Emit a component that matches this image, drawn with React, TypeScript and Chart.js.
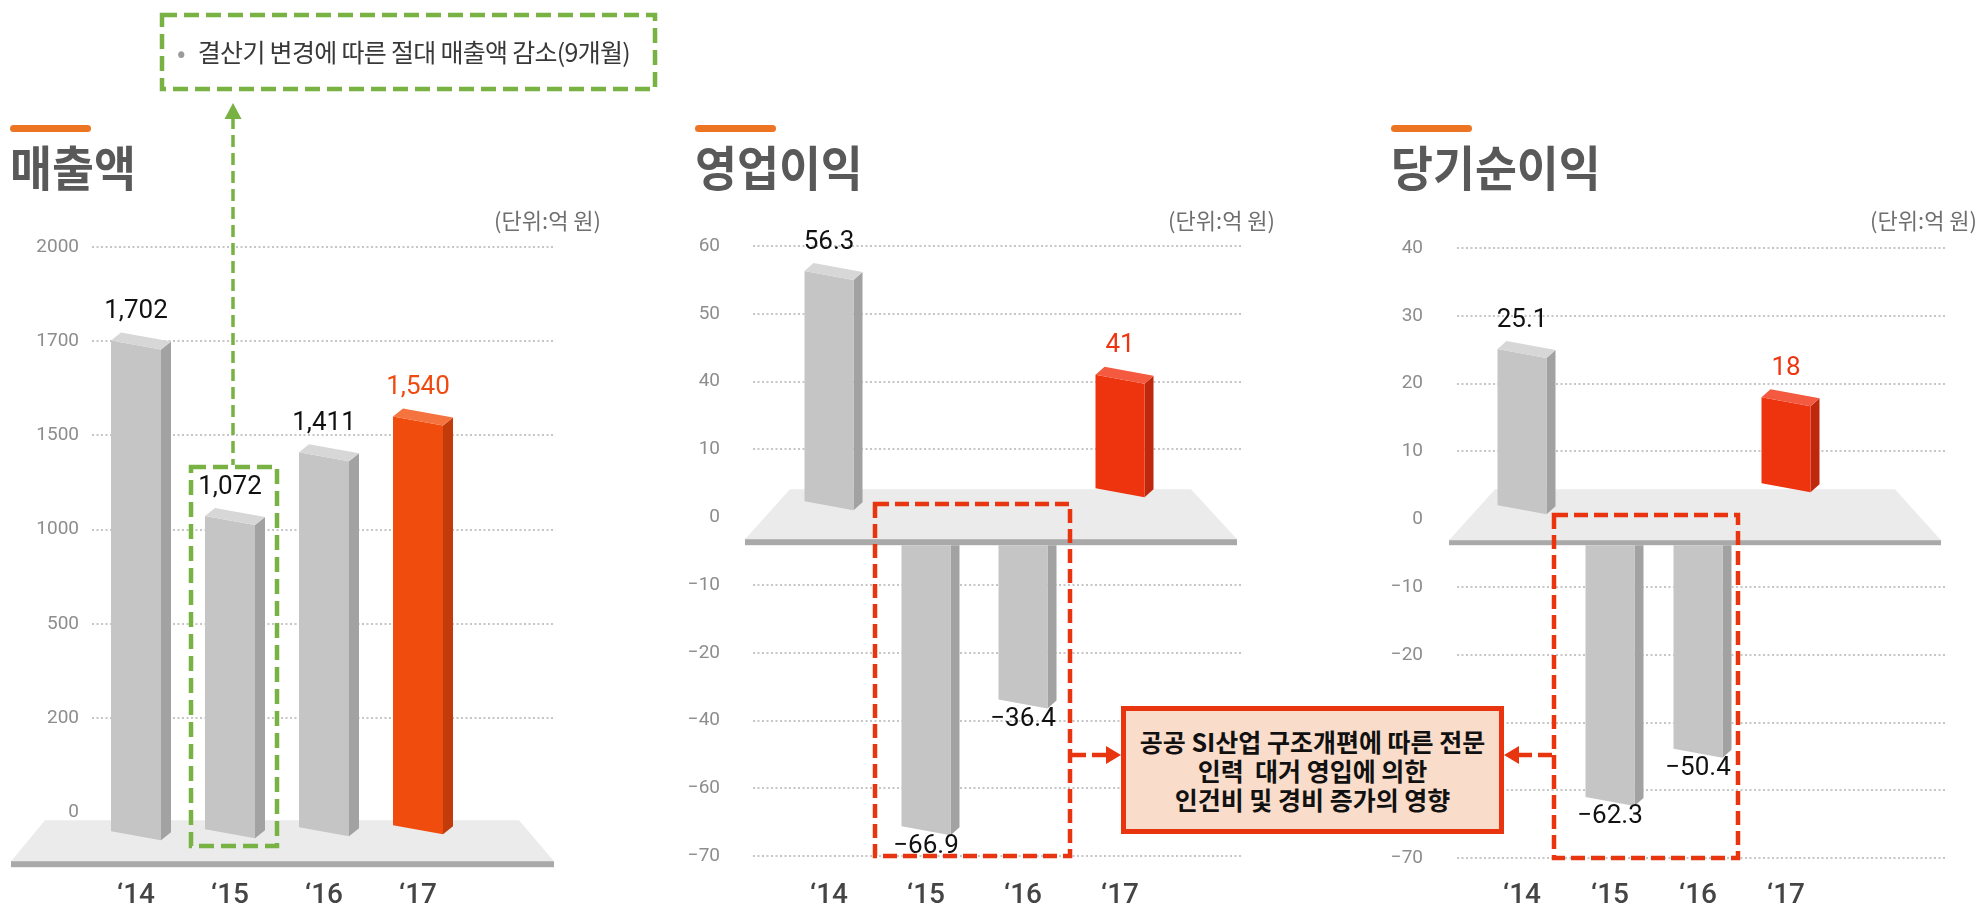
import React, { useEffect, useRef } from "react";
import { Chart, registerables } from "chart.js";

Chart.register(...registerables);

// ---------------- data ----------------
const years = ["‘14", "‘15", "‘16", "‘17"];

const salesValues = [1702, 1072, 1411, 1540];
const salesTicks = [0, 200, 500, 1000, 1500, 1700, 2000];

const opProfitValues = [56.3, -66.9, -36.4, 41];
const opProfitTicks = [-70, -60, -40, -20, -10, 0, 10, 40, 50, 60];

const netIncomeValues = [25.1, -62.3, -50.4, 18];
const netIncomeTicks = [-70, -60, -40, -20, -10, 0, 10, 20, 30, 40];

const titles = ["매출액", "영업이익", "당기순이익"];
const unitLabel = "(단위:억 원)";
const noteText = "결산기 변경에 따른 절대 매출액 감소(9개월)";
const calloutLines = [
  "공공 SI산업 구조개편에 따른 전문",
  "인력  대거 영입에 의한",
  "인건비 및 경비 증가의 영향",
];
const highlightIndex = 3;

// ---------------- helpers ----------------
function toTickIndex(v: number, ticks: number[]): number {
  for (let i = 0; i < ticks.length - 1; i++) {
    const a = ticks[i];
    const b = ticks[i + 1];
    if (v >= a && v <= b) return i + (v - a) / (b - a);
  }
  return v < ticks[0] ? 0 : ticks.length - 1;
}

const fmt = (v: number) => v.toLocaleString("en-US").replace("-", "\u2212");
const fmtTick = (v: number) => String(v).replace("-", "\u2212");

const GRAY = { front: "#c5c5c5", side: "#a2a2a2", top: "#d7d7d7" };

interface PanelStyle {
  canvasLeft: number;
  canvasWidth: number;
  chartLeft: number;
  chartRight: number;
  chartTop: number;
  chartBottom: number;
  pxPerTick: number;
  firstCenter: number;
  spacing: number;
  tickPad: number;
  barW: number;
  shear: number;
  depthX: number;
  depthY: number;
  posBottom: number;
  posBottomStep: number;
  negTop: number;
  plat: { backL: number; backR: number; frontL: number; frontR: number; back: number; front: number; strip: number };
  hi: { front: string; side: string; top: string; label: string };
}

const H = 910;
const X_LABEL_MID = 896;

const style1: PanelStyle = {
  canvasLeft: 0, canvasWidth: 620, chartLeft: 92, chartRight: 553, chartTop: 247, chartBottom: 859.3,
  pxPerTick: 94.2, firstCenter: 136, spacing: 94, tickPad: 13,
  barW: 50, shear: 9, depthX: 10, depthY: 8, posBottom: 19, posBottomStep: -2, negTop: 55,
  plat: { backL: -47, backR: -34, frontL: -81, frontR: 1, back: 8, front: 49, strip: 55 },
  hi: { front: "#ef4c0e", side: "#c23b0a", top: "#f4733f", label: "#ef4a0f" },
};
const style2: PanelStyle = {
  canvasLeft: 660, canvasWidth: 620, chartLeft: 753, chartRight: 1242, chartTop: 246, chartBottom: 864,
  pxPerTick: 67.8, firstCenter: 829, spacing: 97, tickPad: 33,
  barW: 49, shear: 9, depthX: 9, depthY: 8, posBottom: -16, posBottomStep: -4.3, negTop: 28,
  plat: { backL: 37, backR: -51, frontL: -8, frontR: -5, back: -28, front: 22, strip: 28 },
  hi: { front: "#ee340f", side: "#bf280c", top: "#f35a3f", label: "#ee3512" },
};
const style3: PanelStyle = {
  canvasLeft: 1370, canvasWidth: 610, chartLeft: 1457, chartRight: 1945, chartTop: 248, chartBottom: 864,
  pxPerTick: 67.8, firstCenter: 1522, spacing: 88, tickPad: 34,
  barW: 49, shear: 9, depthX: 9, depthY: 8, posBottom: -14, posBottomStep: -7.3, negTop: 26,
  plat: { backL: 38, backR: -50, frontL: -8, frontR: -4, back: -30, front: 21, strip: 26 },
  hi: { front: "#ee340f", side: "#bf280c", top: "#f35a3f", label: "#ee3512" },
};

function poly(ctx: CanvasRenderingContext2D, color: string, pts: number[][]) {
  ctx.fillStyle = color;
  ctx.beginPath();
  ctx.moveTo(pts[0][0], pts[0][1]);
  for (let i = 1; i < pts.length; i++) ctx.lineTo(pts[i][0], pts[i][1]);
  ctx.closePath();
  ctx.fill();
}

function make3D(values: number[], ticks: number[], s: PanelStyle) {
  const zeroIdx = ticks.indexOf(0);
  return {
    id: "bar3d",
    beforeDatasetsDraw(chart: any) {
      const { ctx, chartArea: a } = chart;
      const zero = chart.scales.y.getPixelForValue(zeroIdx);
      const p = s.plat;
      ctx.save();
      poly(ctx, "#ebebeb", [
        [a.left + p.backL, zero + p.back],
        [a.right + p.backR, zero + p.back],
        [a.right + p.frontR, zero + p.front],
        [a.left + p.frontL, zero + p.front],
      ]);
      ctx.fillStyle = "#a9a9a9";
      ctx.fillRect(a.left + p.frontL, zero + p.front, a.right + p.frontR - (a.left + p.frontL), p.strip - p.front);
      ctx.restore();
    },
    afterDatasetsDraw(chart: any) {
      const ctx: CanvasRenderingContext2D = chart.ctx;
      const zero = chart.scales.y.getPixelForValue(zeroIdx);
      const meta = chart.getDatasetMeta(0);
      const sh = s.shear, dx = s.depthX, dy = s.depthY;
      ctx.save();
      meta.data.forEach((el: any, i: number) => {
        const v = values[i];
        const col = i === highlightIndex ? s.hi : GRAY;
        const L = el.x - s.barW / 2;
        const R = el.x + s.barW / 2;
        let labelY: number;
        if (v >= 0) {
          const T = el.y;
          const B = zero + s.posBottom + s.posBottomStep * i;
          poly(ctx, col.side, [[R, T + sh], [R + dx, T + sh - dy], [R + dx, B + sh - dy], [R, B + sh]]);
          poly(ctx, col.front, [[L, T], [R, T + sh], [R, B + sh], [L, B]]);
          poly(ctx, col.top, [[L, T], [R, T + sh], [R + dx, T + sh - dy], [L + dx, T - dy]]);
          labelY = T - 29;
        } else {
          const T = zero + s.negTop;
          const Br = el.y;
          const Bl = Br - sh;
          poly(ctx, col.side, [[R, T], [R + dx, T], [R + dx, Br - dy], [R, Br]]);
          poly(ctx, col.front, [[L, T], [R, T], [R, Br], [L, Bl]]);
          labelY = Br + 11;
        }
        ctx.font = "26px Roboto";
        ctx.textAlign = "center";
        ctx.textBaseline = "middle";
        ctx.fillStyle = i === highlightIndex ? s.hi.label : "#111111";
        ctx.fillText(fmt(v), el.x, labelY);
      });
      ctx.restore();
    },
  };
}

function buildChart(canvas: HTMLCanvasElement, values: number[], ticks: number[], s: PanelStyle) {
  const yMax = ticks.length - 1;
  const yMin = yMax - (s.chartBottom - s.chartTop) / s.pxPerTick;
  const xMin = -(s.firstCenter - s.chartLeft) / s.spacing;
  const xMax = xMin + (s.chartRight - s.chartLeft) / s.spacing;
  const zeroIdx = ticks.indexOf(0);
  const xFont = 28;
  return new Chart(canvas, {
    type: "bar",
    data: {
      datasets: [
        {
          data: values.map((v, i) => ({ x: i, y: toTickIndex(v, ticks) })),
          base: zeroIdx,
          barThickness: s.barW,
          backgroundColor: "rgba(0,0,0,0)",
          borderWidth: 0,
        } as any,
      ],
    },
    options: {
      responsive: false,
      animation: false,
      events: [],
      layout: {
        autoPadding: false,
        padding: { left: 0, top: s.chartTop, right: s.canvasLeft + s.canvasWidth - s.chartRight, bottom: 0 },
      },
      plugins: { legend: { display: false }, tooltip: { enabled: false } },
      scales: {
        x: {
          type: "linear",
          offset: false,
          min: xMin,
          max: xMax,
          grid: { display: false, offset: false, drawTicks: false },
          border: { display: false },
          afterBuildTicks: (ax: any) => {
            ax.ticks = years.map((_, i) => ({ value: i }));
          },
          afterFit: (ax: any) => {
            ax.height = H - s.chartBottom;
          },
          ticks: {
            autoSkip: false,
            maxRotation: 0,
            padding: X_LABEL_MID - s.chartBottom - xFont * 0.6,
            color: "#454545",
            font: { family: "Roboto", size: xFont, weight: "500" },
            callback: (v: any) => years[v] ?? "",
          },
        },
        y: {
          type: "linear",
          min: yMin,
          max: yMax,
          afterBuildTicks: (ax: any) => {
            ax.ticks = ticks.map((_, i) => ({ value: i }));
          },
          afterFit: (ax: any) => {
            ax.width = s.chartLeft - s.canvasLeft;
          },
          grid: {
            drawTicks: false,
            lineWidth: 2,
            color: (c: any) => (c.tick && ticks[c.tick.value] === 0 ? "rgba(0,0,0,0)" : "#c6c6c6"),
          },
          border: { display: false, dash: [2, 2.5] },
          ticks: {
            autoSkip: false,
            padding: s.tickPad,
            color: "#8d8d8d",
            font: { family: "Roboto", size: 19 },
            callback: (v: any) => (ticks[v] === undefined ? "" : fmtTick(ticks[v])),
          },
        },
      },
    } as any,
    plugins: [make3D(values, ticks, s)],
  });
}

function Panel({ values, ticks, s }: { values: number[]; ticks: number[]; s: PanelStyle }) {
  const ref = useRef<HTMLCanvasElement>(null);
  useEffect(() => {
    const chart = buildChart(ref.current as HTMLCanvasElement, values, ticks, s);
    return () => chart.destroy();
  }, []);
  return (
    <canvas
      ref={ref}
      width={s.canvasWidth}
      height={H}
      style={{ position: "absolute", left: s.canvasLeft, top: 0, width: s.canvasWidth, height: H }}
    />
  );
}

const KR = '"Noto Sans CJK KR", "Noto Sans", sans-serif';
const GREEN = "#77b243";
const RED = "#e8340f";

function Header({ left, title, unitRight }: { left: number; title: string; unitRight: number }) {
  return (
    <>
      <div style={{ position: "absolute", left, top: 125, width: 81, height: 7, borderRadius: 4, background: "#ec7423" }} />
      <div
        style={{
          position: "absolute", left, top: 141, fontFamily: KR, fontWeight: 700, fontSize: 48, lineHeight: "48px",
          color: "#595959", whiteSpace: "nowrap", transform: "scaleX(0.95)", transformOrigin: "left top",
        }}
      >
        {title}
      </div>
      <div
        style={{
          position: "absolute", left: unitRight - 200, width: 200, top: 208, textAlign: "right", fontFamily: KR,
          fontSize: 22, lineHeight: "22px", color: "#6e6e6e", whiteSpace: "nowrap",
        }}
      >
        {unitLabel}
      </div>
    </>
  );
}

export default function App() {
  useEffect(() => {
    document.body.style.margin = "0";
  }, []);
  return (
    <div style={{ position: "absolute", left: 0, top: 0, width: 1980, height: H, background: "#fff", overflow: "hidden" }}>
      <Panel values={salesValues} ticks={salesTicks} s={style1} />
      <Panel values={opProfitValues} ticks={opProfitTicks} s={style2} />
      <Panel values={netIncomeValues} ticks={netIncomeTicks} s={style3} />

      <Header left={10} title={titles[0]} unitRight={601} />
      <Header left={695} title={titles[1]} unitRight={1275} />
      <Header left={1391} title={titles[2]} unitRight={1977} />

      <svg width={1980} height={H} style={{ position: "absolute", left: 0, top: 0, pointerEvents: "none" }}>
        {/* green annotation */}
        <rect x={162} y={15} width={493} height={74} fill="none" stroke={GREEN} strokeWidth={4.5} strokeDasharray="15 7" />
        <line x1={233} y1={117} x2={233} y2={465} stroke={GREEN} strokeWidth={3.5} strokeDasharray="12 6" />
        <polygon points="233,103 224.5,119 241.5,119" fill={GREEN} />
        <rect x={191} y={467} width={86} height={379} fill="none" stroke={GREEN} strokeWidth={4.5} strokeDasharray="15 7" />
        {/* red annotations */}
        <rect x={875} y={504} width={195} height={352} fill="none" stroke={RED} strokeWidth={4.5} strokeDasharray="14 6" />
        <rect x={1554} y={515} width={184} height={343} fill="none" stroke={RED} strokeWidth={4.5} strokeDasharray="14 6" />
        <line x1={1072} y1={755} x2={1108} y2={755} stroke={RED} strokeWidth={4.5} strokeDasharray="14 6" />
        <polygon points="1121,755 1106,746 1106,764" fill={RED} />
        <line x1={1552} y1={755} x2={1518} y2={755} stroke={RED} strokeWidth={4.5} strokeDasharray="14 6" />
        <polygon points="1504,755 1519,746 1519,764" fill={RED} />
      </svg>

      <div
        style={{
          position: "absolute", left: 177, top: 38, fontFamily: KR, fontSize: 25, lineHeight: "26px",
          color: "#383838", whiteSpace: "nowrap", letterSpacing: "-0.7px",
        }}
      >
        <span style={{ color: "#9a9a9a", marginRight: 13 }}>•</span>
        {noteText}
      </div>

      <div
        style={{
          position: "absolute", left: 1121, top: 706, width: 383, height: 128, boxSizing: "border-box",
          border: `5px solid ${RED}`, background: "#f9dcca", display: "flex", flexDirection: "column",
          alignItems: "center", justifyContent: "center", fontFamily: KR, fontWeight: 700, fontSize: 25,
          lineHeight: "29px", color: "#111", whiteSpace: "pre", textAlign: "center",
        }}
      >
        {calloutLines.map((l, i) => (
          <div key={i}>{l}</div>
        ))}
      </div>
    </div>
  );
}
